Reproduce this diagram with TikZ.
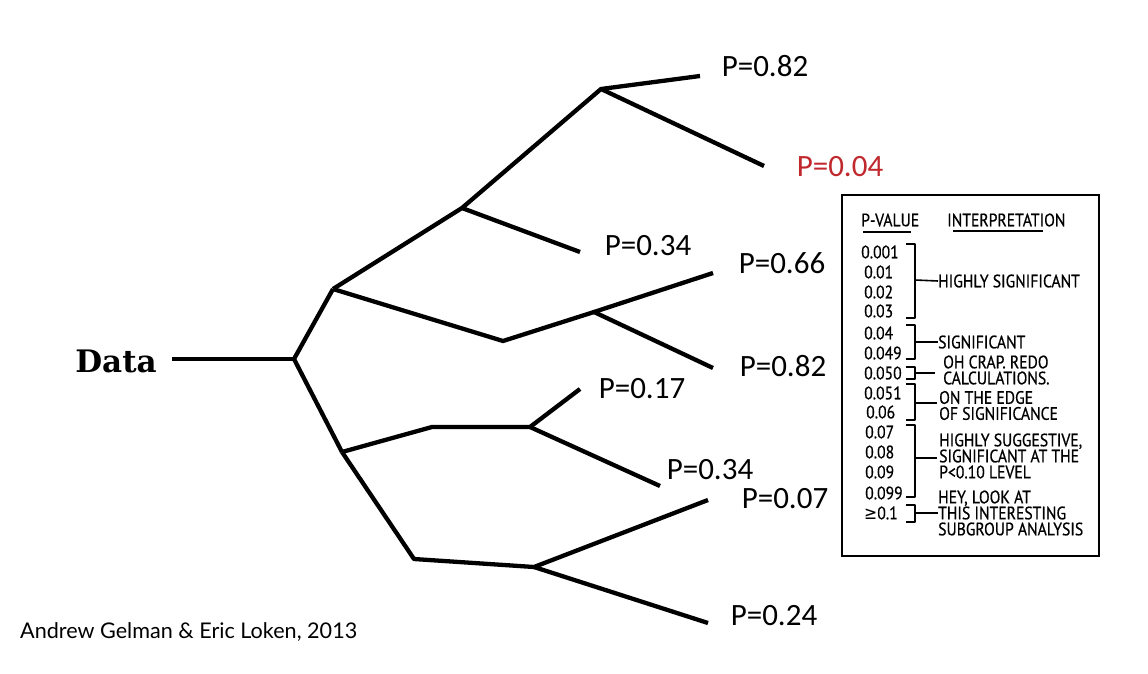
\documentclass[tikz,border=0pt]{standalone}
\usepackage{fontspec}
\setmainfont{Carlito}
\newfontfamily\datafont{DejaVu Serif}
\newfontfamily\creditfont{Lato}
\newfontfamily\xkfont[FakeStretch=0.87,FakeBold=0.6]{PT Sans}
\newfontfamily\xksym[FakeStretch=0.87]{DejaVu Sans}
\definecolor{pred}{RGB}{192,40,45}
\tikzset{
  branch/.style={line width=4.3, line cap=butt, line join=round},
  plabel/.style={font=\fontsize{31}{36}\selectfont, inner sep=0},
  xk/.style={font=\xkfont\fontsize{18}{16}\selectfont, inner sep=0, anchor=west, align=left},
  brk/.style={line width=1.6, line join=round},
}
\begin{document}
\begin{tikzpicture}[x=1pt,y=-1pt]
\useasboundingbox (0,0) rectangle (1148,674);
\fill[white] (0,0) rectangle (1148,674);
% tree coordinates
\coordinate (dstart) at (172,359);
\coordinate (root) at (294,359);
\coordinate (A) at (333,289);
\coordinate (B) at (462,208);
\coordinate (C) at (601,89);
\coordinate (D) at (503,341);
\coordinate (E) at (594,312);
\coordinate (F) at (342,452);
\coordinate (G) at (432,427);
\coordinate (H) at (530,427);
\coordinate (I) at (414,559);
\coordinate (J) at (534,567);
\coordinate (e1) at (700,76);
\coordinate (e2) at (764,166);
\coordinate (e3) at (580,252);
\coordinate (e4) at (713,273);
\coordinate (e5) at (713,368);
\coordinate (e6) at (580,389);
\coordinate (e7) at (660,486);
\coordinate (e8) at (708,500);
\coordinate (e9) at (708,623);
% labels
\node[font=\datafont\bfseries\fontsize{31}{36}\selectfont, inner sep=0] (data) at (116,361) {Data};
\node[plabel] (p1) at (765,66) {P=0.82};
\node[plabel, text=pred] (p2) at (840,167) {P=0.04};
\node[plabel] (p3) at (648,246) {P=0.34};
\node[plabel] (p4) at (782,263) {P=0.66};
\node[plabel] (p5) at (783,366) {P=0.82};
\node[plabel] (p6) at (642,389) {P=0.17};
\node[plabel] (p7) at (710,470) {P=0.34};
\node[plabel] (p8) at (785,499) {P=0.07};
\node[plabel] (p9) at (774,616) {P=0.24};
\node[font=\creditfont\fontsize{21.6}{24}\selectfont, inner sep=0, anchor=west] (credit) at (20,632) {Andrew Gelman \& Eric Loken, 2013};
% branches
\draw[branch] (dstart) -- (root);
\draw[branch] (A) -- (root) -- (F);
\draw[branch] (A) -- (B) -- (C) -- (e1);
\draw[branch] (C) -- (e2);
\draw[branch] (B) -- (e3);
\draw[branch] (A) -- (D) -- (E) -- (e4);
\draw[branch] (E) -- (e5);
\draw[branch] (F) -- (G) -- (H) -- (e6);
\draw[branch] (H) -- (e7);
\draw[branch] (F) -- (I) -- (J) -- (e8);
\draw[branch] (J) -- (e9);
% xkcd table
\draw[line width=2] (842,195) rectangle (1099,556);
\node[xk] (hp) at (861,220) {P-VALUE};
\node[xk] (hi) at (947,220) {INTERPRETATION};
\draw[brk] (863,232) -- (911,232);
\draw[brk] (953,231) -- (1043,231);
\node[xk] (v1) at (861,252) {0.001};
\node[xk] (v2) at (864,272) {0.01};
\node[xk] (v3) at (864,292) {0.02};
\node[xk] (v4) at (864,311) {0.03};
\node[xk] (v5) at (864,333) {0.04};
\node[xk] (v6) at (864,353) {0.049};
\node[xk] (v7) at (864,373) {0.050};
\node[xk] (v8) at (864,393) {0.051};
\node[xk] (v9) at (866,412) {0.06};
\node[xk] (v10) at (865,432) {0.07};
\node[xk] (v11) at (865,452) {0.08};
\node[xk] (v12) at (865,472) {0.09};
\node[xk] (v13) at (865,493) {0.099};
\node[xk] (v14) at (864,513) {{\xksym ≥}0.1};
\node[xk] (t1) at (938,281) {HIGHLY SIGNIFICANT};
\node[xk] (t2) at (938,342) {SIGNIFICANT};
\node[xk] (t3) at (943,370) {OH CRAP. REDO\\CALCULATIONS.};
\node[xk] (t4) at (939,405.5) {ON THE EDGE\\OF SIGNIFICANCE};
\node[xk] (t5) at (939,456) {HIGHLY SUGGESTIVE,\\SIGNIFICANT AT THE\\P<0.10 LEVEL};
\node[xk] (t6) at (938,513) {HEY, LOOK AT\\THIS INTERESTING\\SUBGROUP ANALYSIS};
% brackets
\draw[brk] (906,244) -- (915,244) -- (915,318) -- (906,318);
\draw[brk] (915,280) -- (t1.west);
\draw[brk] (906,325) -- (915,325) -- (915,359) -- (906,359);
\draw[brk] (915,342) -- (t2.west);
\draw[brk] (906,367) -- (915,367) -- (915,379) -- (906,379);
\draw[brk] (915,373) -- (935,373);
\draw[brk] (906,384) -- (915,384) -- (915,420) -- (906,420);
\draw[brk] (915,403) -- (937,403);
\draw[brk] (906,425) -- (915,425) -- (915,497) -- (906,497);
\draw[brk] (915,458) -- (937,458);
\draw[brk] (906,505) -- (915,505) -- (915,522) -- (906,522);
\draw[brk] (915,513) -- (t6.west);
\end{tikzpicture}
\end{document}
